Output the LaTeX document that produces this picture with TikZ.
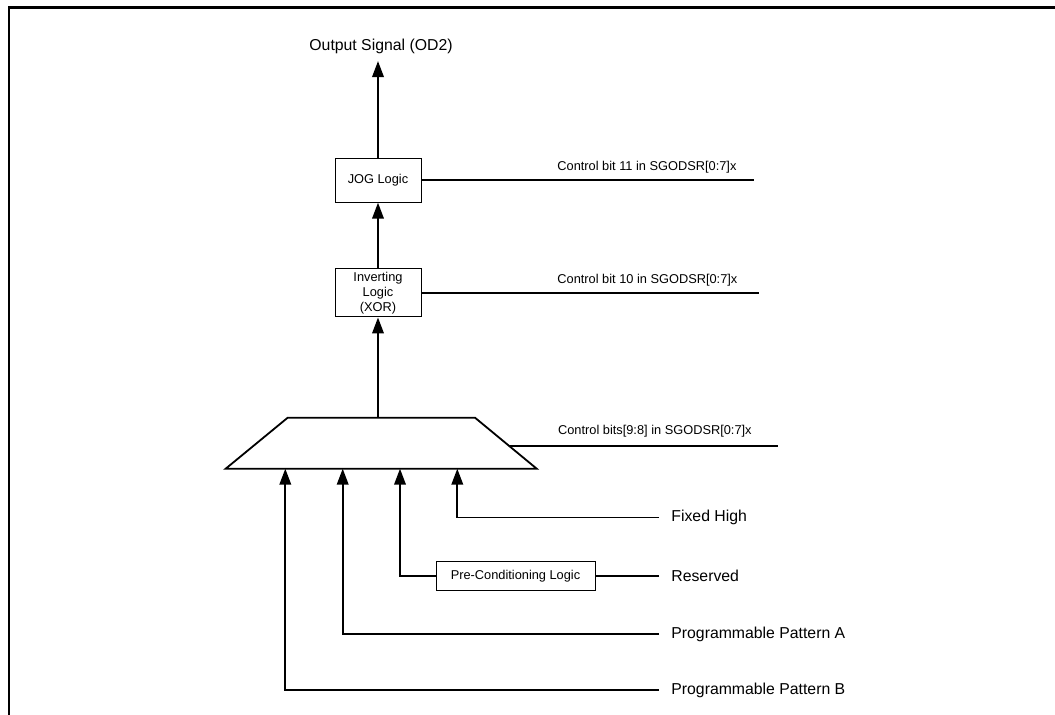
\documentclass[tikz,border=0pt]{standalone}
\usepackage{fontspec}
\setmainfont{Liberation Sans}
\usetikzlibrary{arrows.meta}

\begin{document}
\begin{tikzpicture}[x=0.5pt, y=-0.5pt,
        blk/.style={draw, rectangle, line width=0.5pt, inner sep=0pt, align=center,
            font=\fontsize{6.4}{7.5}\selectfont},
        lbl/.style={font=\fontsize{7.9}{9.5}\selectfont},
        ctl/.style={font=\fontsize{6.4}{7.5}\selectfont, anchor=west, inner sep=0pt},
        inp/.style={lbl, anchor=west, inner xsep=6pt, inner ysep=0pt},
        wire/.style={line width=0.9pt},
        arr/.style={wire, -{Triangle[length=8pt, width=5.8pt]}}]

        \useasboundingbox (0,0) rectangle (1055,715);
        \draw[line width=1.4pt] (9,715) -- (9,7.3) -- (1055,7.3);

        \node[lbl] (o) at (381,46.7) {Output Signal (OD2)};

        \node[blk, minimum width=43pt, minimum height=22pt] (a) at (378,180.2) {JOG Logic};
        \path[draw,arr] (a.north) -- (a.north |- o.south);
        \node[blk, minimum width=43pt, minimum height=24pt] (b) at (378,293)
        {
            Inverting\\
            Logic\\
            (XOR)};
        \path[draw,arr] (b.north) -- (a.south);

        \coordinate (m) at (378,417.7);
        \coordinate (m1) at (285.3,468.7);
        \coordinate (m2) at (342.7,468.7);
        \coordinate (m3) at (400,468.7);
        \coordinate (m4) at (457.3,468.7);
        \draw[wire, line join=miter] (225.7,468.7) -- (287.7,417.7) -- (475,417.7) -- (536.7,468.7) -- cycle;
        \path[draw,arr] (m) -- (b.south);

        \coordinate (c1) at (754,180.7);
        \path[draw,wire] (a.east) -- (a.east -| c1);
        \node[ctl] (t1) at (557,167) {Control bit 11 in SGODSR[0:7]x};
        \coordinate (c2) at (759,293.3);
        \path[draw,wire] (b.east) -- (b.east -| c2);
        \node[ctl] (t2) at (557,280) {Control bit 10 in SGODSR[0:7]x};
        \coordinate (k) at (509.2,446);
        \coordinate (c3) at (778,446);
        \path[draw,wire] (k) -- (c3);
        \node[ctl] (t3) at (557.7,430.7) {Control bits[9:8] in SGODSR[0:7]x};

        \node[inp] (e) at (659,517.5) {Fixed High};
        \path[draw,arr] (e.west) -| (m4);
        \node[blk, minimum width=79.5pt, minimum height=14.5pt] (p) at (515.5,576) {Pre-Conditioning Logic};
        \node[inp] (f) at (659,576) {Reserved};
        \path[draw,wire] (f.west) -- (p.east);
        \path[draw,arr] (p.west) -| (m3);
        \node[inp] (g) at (659,634) {Programmable Pattern A};
        \path[draw,arr] (g.west) -| (m2);
        \node[inp] (h) at (659,690.3) {Programmable Pattern B};
        \path[draw,arr] (h.west) -| (m1);
    \end{tikzpicture}
\end{document}
